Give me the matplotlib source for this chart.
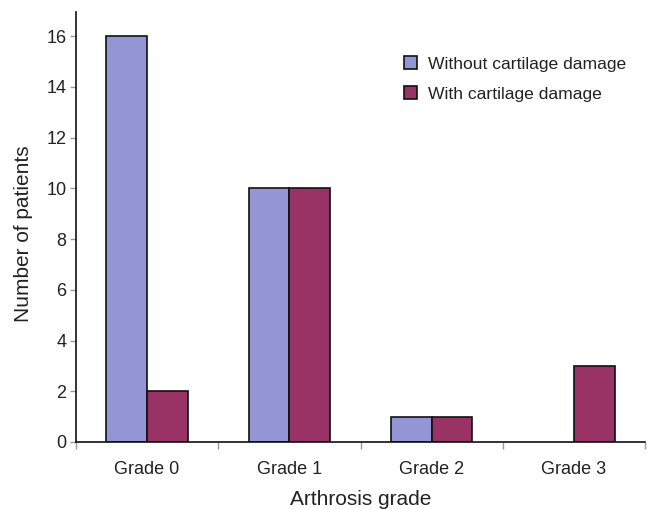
import numpy as np
import matplotlib
matplotlib.use("Agg")
import matplotlib.pyplot as plt

plt.rcParams['font.family'] = ['Liberation Sans', 'DejaVu Sans']

grades = ["Grade 0", "Grade 1", "Grade 2", "Grade 3"]
without_damage = [16, 10, 1, 0]
with_damage = [2, 10, 1, 3]
series_names = ["Without cartilage damage", "With cartilage damage"]

blue = "#9395d5"
plum = "#993366"

fig = plt.figure(figsize=(6.47, 5.09), dpi=100)
ax = fig.add_axes([76 / 647, 67 / 509, 569 / 647, 430 / 509])

x = np.arange(len(grades))
w = 1 / 3.5  # two bars + 150% gap


def edge_widths(vals):
    # no outline for empty bars, so nothing is drawn over the axis
    return [1.2 if v > 0 else 0 for v in vals]


ax.bar(x - w / 2, without_damage, w, color=blue, edgecolor="#111111",
       linewidth=edge_widths(without_damage), label=series_names[0])
ax.bar(x + w / 2, with_damage, w, color=plum, edgecolor="#111111",
       linewidth=edge_widths(with_damage), label=series_names[1])

ax.set_xlim(-0.5, len(grades) - 0.5)
ax.set_ylim(0, 16.95)
ax.set_yticks(np.arange(0, 17, 2))

# category labels centred, tick marks on the category boundaries
ax.set_xticks(x)
ax.set_xticklabels(grades, fontsize=13, color="#222222")
ax.tick_params(axis="x", which="major", length=0, pad=14)
ax.set_xticks(np.arange(-0.5, len(grades), 1), minor=True)
ax.tick_params(axis="x", which="minor", length=5, width=1, color="#999999", direction="out")
ax.tick_params(axis="y", length=4, width=1, color="#999999", labelsize=13,
               labelcolor="#222222", pad=3)

for s in ["top", "right"]:
    ax.spines[s].set_visible(False)
for s in ["left", "bottom"]:
    ax.spines[s].set_color("#111111")
    ax.spines[s].set_linewidth(1.2)

ax.set_xlabel("Arthrosis grade", fontsize=15, color="#222222", labelpad=8)
ax.set_ylabel("Number of patients", fontsize=15, color="#222222")
ax.yaxis.set_label_coords(-0.075, 0.485)

leg = ax.legend(loc="upper left", bbox_to_anchor=(404 / 647, 1 - 56 / 509),
                bbox_transform=fig.transFigure, frameon=False, fontsize=12.6,
                handlelength=0.75, handleheight=0.75, handletextpad=0.6,
                labelspacing=0.85, borderpad=0, borderaxespad=0)
for t in leg.get_texts():
    t.set_color("#222222")

fig.savefig("out.png", dpi=100)
